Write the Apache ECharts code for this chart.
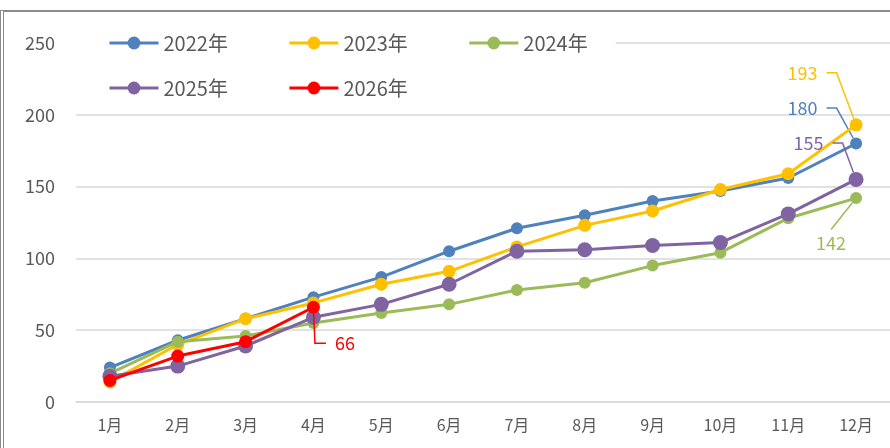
<!DOCTYPE html>
<html>
<head>
<meta charset="utf-8">
<script src="https://cdn.jsdelivr.net/npm/echarts@6/dist/echarts.min.js"></script>
<style>
html,body{margin:0;padding:0;background:#fff;overflow:hidden;}
#frame{position:absolute;left:0px;top:10px;width:1000px;height:600px;border-left:4px double #8c8c8c;border-top:2px solid #8c8c8c;box-sizing:border-box;}
#chart{position:absolute;left:0;top:0;width:890px;height:448px;}
</style>
</head>
<body>
<div id="frame"></div>
<div id="chart"></div>
<script>
const months = ['1月','2月','3月','4月','5月','6月','7月','8月','9月','10月','11月','12月'];
const seriesNames = ['2022年','2023年','2024年','2025年','2026年'];
const y2022 = [24, 43, 58, 73, 87, 105, 121, 130, 140, 147, 156, 180];
const y2023 = [14, 40, 58, 69, 82, 91, 108, 123, 133, 148, 159, 193];
const y2024 = [20, 42, 46, 55, 62, 68, 78, 83, 95, 104, 128, 142];
const y2025 = [18, 25, 39, 59, 68, 82, 105, 106, 109, 111, 131, 155];
const y2026 = [15, 32, 42, 66];
const yTicks = {min: 0, max: 250, interval: 50};

const FONT = '"Noto Sans CJK JP", "Noto Sans", sans-serif';
const colors = ['#4F81BD', '#FFC000', '#9BBB59', '#8064A2', '#FF0000'];
const symSizes = [12, 13, 12, 15, 13];
// label placement styles: dataIndex, offset, label box padding, guide segment length
const labelStyle = [
  {idx: 11, dx: -49, dy: -35.5, pad: [0, 9, 0, 0], len2: 10},
  {idx: 11, dx: -49, dy: -52, pad: [0, 9, 0, 0], len2: 10},
  {idx: 11, dx: -25, dy: 45, pad: [9, 0, 0, 0], len2: 0},
  {idx: 11, dx: -43, dy: -36.5, pad: [0, 9, 0, 0], len2: 10},
  {idx: 3, dx: 47, dy: 36, pad: [0, 40, 0, 9], len2: 11}
];
const allData = [y2022, y2023, y2024, y2025, y2026];

const chart = echarts.init(document.getElementById('chart'), null, {renderer: 'canvas'});

const series = allData.map((d, i) => {
  const ls = labelStyle[i];
  return {
    name: seriesNames[i],
    type: 'line',
    data: d.map((v, j) => j === ls.idx ? {value: v, label: {show: true}, labelLine: {show: true}} : v),
    symbol: 'circle',
    symbolSize: symSizes[i],
    lineStyle: {width: 3, color: colors[i]},
    itemStyle: {color: colors[i]},
    z: 2 + i,
    label: {
      show: false,
      position: 'inside',
      color: colors[i],
      fontSize: 18,
      fontFamily: FONT,
      backgroundColor: 'rgba(255,255,255,0)',
      padding: ls.pad
    },
    labelLine: {
      show: false,
      length2: ls.len2,
      minTurnAngle: 60,
      lineStyle: {color: colors[i], width: 1.5}
    },
    labelLayout: function (p) {
      if (p.dataIndex === ls.idx) return {dx: ls.dx, dy: ls.dy};
    },
    animation: false
  };
});

const legendCommon = {
  itemWidth: 49,
  itemHeight: 16,
  itemGap: 60,
  backgroundColor: '#ffffff',
  lineStyle: {width: 3},
  textStyle: {fontSize: 20, color: '#595959', fontFamily: FONT},
  orient: 'horizontal'
};

chart.setOption({
  color: colors,
  animation: false,
  legend: [
    Object.assign({}, legendCommon, {data: seriesNames.slice(0, 3), left: 68, top: 28, padding: [5, 28, 5, 40]}),
    Object.assign({}, legendCommon, {data: seriesNames.slice(3), left: 68, top: 73, padding: [5, 28, 5, 40], backgroundColor: 'transparent'})
  ],
  grid: {left: 76, right: 0, top: 43, bottom: 46, containLabel: false},
  xAxis: {
    type: 'category',
    data: months,
    boundaryGap: true,
    axisLine: {show: true, lineStyle: {color: '#d9d9d9', width: 1.5}},
    axisTick: {show: false},
    axisLabel: {color: '#595959', fontSize: 16, fontFamily: FONT, margin: 15}
  },
  yAxis: {
    type: 'value',
    min: yTicks.min,
    max: yTicks.max,
    interval: yTicks.interval,
    axisLine: {show: false},
    axisTick: {show: false},
    splitLine: {lineStyle: {color: '#d9d9d9', width: 1.5}},
    axisLabel: {color: '#595959', fontSize: 18, fontFamily: FONT, margin: 21}
  },
  series: series
});
</script>
</body>
</html>
